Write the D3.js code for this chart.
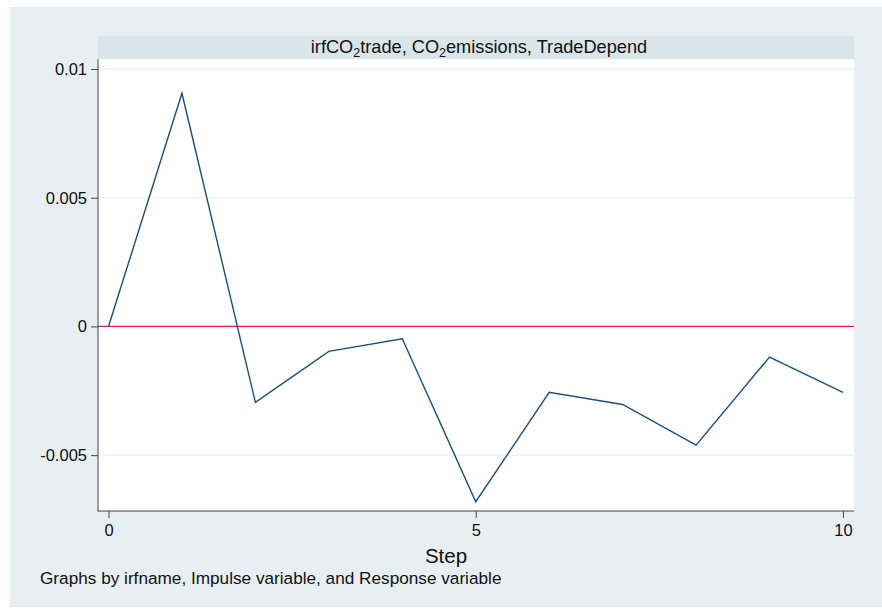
<!DOCTYPE html>
<html>
<head>
<meta charset="utf-8">
<script src="https://cdn.jsdelivr.net/npm/d3@7"></script>
<style>
  html, body { margin: 0; padding: 0; background: #fff; }
  svg { display: block; font-family: "Liberation Sans", Arial, sans-serif; }
</style>
</head>
<body>
<div id="chart"></div>
<script>
// dati (irf, impulso CO2emissions -> risposta TradeDepend)
const steps = [0, 1, 2, 3, 4, 5, 6, 7, 8, 9, 10];
const irfValues = [0, 0.00906, -0.00295, -0.00097, -0.00048, -0.00681, -0.00256, -0.00303, -0.00461, -0.00119, -0.00256];
const yTicks = [-0.005, 0, 0.005, 0.01];
const yTickLabels = ["-0.005", "0", "0.005", "0.01"];
const xTicks = [0, 5, 10];

const width = 882;
const height = 609;
const plot = { left: 98, right: 854, top: 59, bottom: 511 };

const svg = d3.select("#chart").append("svg").attr("width", width).attr("height", height);

// sfondo della regione del grafico
svg.append("rect").attr("x", 10).attr("y", 7).attr("width", width - 10).attr("height", 600).attr("fill", "#e8eff2");

// banda del titolo
svg.append("rect")
  .attr("x", plot.left).attr("y", 36)
  .attr("width", plot.right - plot.left).attr("height", plot.top - 36)
  .attr("fill", "#d9e5eb");

const title = svg.append("text")
  .attr("x", (plot.left + plot.right) / 2 + 3).attr("y", 53)
  .attr("text-anchor", "middle").attr("font-size", 18.2).attr("fill", "#111");
title.append("tspan").text("irfCO");
title.append("tspan").attr("font-size", 12.5).attr("dy", 4).text("2");
title.append("tspan").attr("dy", -4).text("trade, CO");
title.append("tspan").attr("font-size", 12.5).attr("dy", 4).text("2");
title.append("tspan").attr("dy", -4).text("emissions, TradeDepend");

// area del plot
svg.append("rect")
  .attr("x", plot.left).attr("y", plot.top)
  .attr("width", plot.right - plot.left).attr("height", plot.bottom - plot.top)
  .attr("fill", "#fff");

const x = d3.scaleLinear().domain([-0.143, 10.15]).range([plot.left, plot.right]);
const y = d3.scaleLinear().domain([-0.00717, 0.01039]).range([plot.bottom, plot.top]);

// griglia
svg.append("g").selectAll("line").data(yTicks).join("line")
  .attr("x1", plot.left).attr("x2", plot.right)
  .attr("y1", (d) => y(d)).attr("y2", (d) => y(d))
  .attr("stroke", "#eaf1f3").attr("stroke-width", 1.2);

// linea dello zero
svg.append("line")
  .attr("x1", plot.left).attr("x2", plot.right)
  .attr("y1", y(0)).attr("y2", y(0))
  .attr("stroke", "#e3254d").attr("stroke-width", 1.3);

// asse y
const yAxis = svg.append("g")
  .attr("transform", `translate(${plot.left},0)`)
  .call(d3.axisLeft(y).tickValues(yTicks).tickSize(7).tickPadding(4)
    .tickFormat((d, i) => yTickLabels[i]));
yAxis.select(".domain").attr("stroke", "#444").attr("d", `M0,${plot.top}V${plot.bottom + 0.5}`);
yAxis.selectAll(".tick line").attr("stroke", "#444");
yAxis.selectAll(".tick text").attr("font-size", 16.5).attr("fill", "#111")
  .attr("font-family", "Liberation Sans, Arial, sans-serif");

// asse x
const xAxis = svg.append("g")
  .attr("transform", `translate(0,${plot.bottom})`)
  .call(d3.axisBottom(x).tickValues(xTicks).tickSize(7).tickPadding(6).tickFormat(d3.format("d")));
xAxis.select(".domain").attr("stroke", "#444").attr("d", `M${plot.left},0H${plot.right}`);
xAxis.selectAll(".tick line").attr("stroke", "#444");
xAxis.selectAll(".tick text").attr("font-size", 16.5).attr("fill", "#111")
  .attr("font-family", "Liberation Sans, Arial, sans-serif");

// serie irf
const line = d3.line().x((d, i) => x(steps[i])).y((d) => y(d));
svg.append("path")
  .datum(irfValues)
  .attr("d", line)
  .attr("fill", "none")
  .attr("stroke", "#1f4d78")
  .attr("stroke-width", 1.4)
  .attr("stroke-linejoin", "miter");

// titolo asse x (centrato sulla regione del grafico)
svg.append("text")
  .attr("x", 446).attr("y", 563)
  .attr("text-anchor", "middle").attr("font-size", 20.5).attr("fill", "#111")
  .text("Step");

// nota
svg.append("text")
  .attr("x", 40).attr("y", 584)
  .attr("font-size", 17.2).attr("fill", "#111")
  .text("Graphs by irfname, Impulse variable, and Response variable");
</script>
</body>
</html>
